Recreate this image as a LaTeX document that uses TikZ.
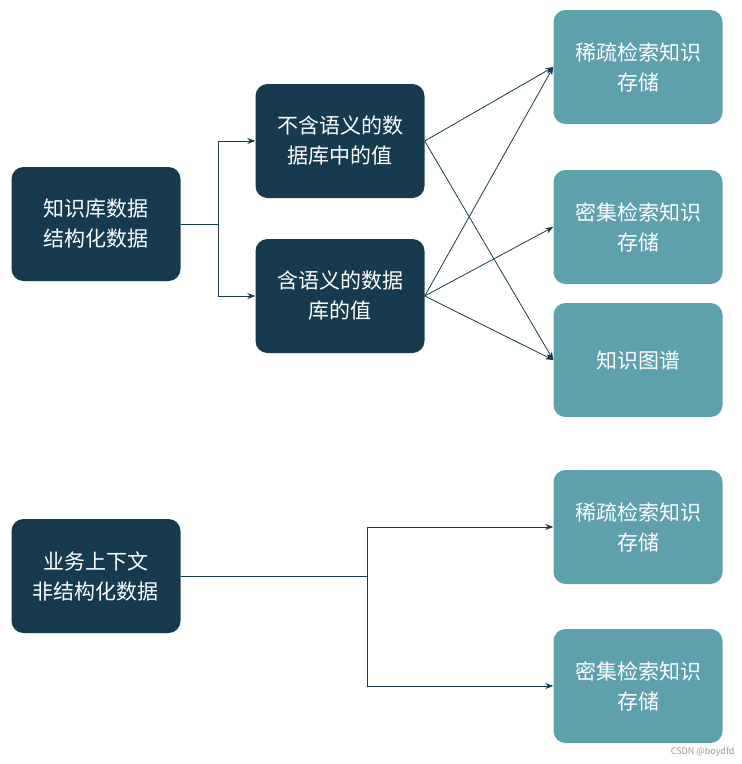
\documentclass[tikz,border=0pt]{standalone}
\usepackage{fontspec}
\setmainfont{Noto Sans CJK SC}
\usetikzlibrary{arrows.meta}
\definecolor{dk}{HTML}{173A4E}
\definecolor{tl}{HTML}{5FA0AD}
\tikzset{
 box/.style={rounded corners=12pt,minimum width=169pt,minimum height=114pt,text width=160pt,align=center,text=white,font=\fontsize{21}{30}\selectfont,inner sep=0pt},
 dbox/.style={box,fill=dk},
 tbox/.style={box,fill=tl},
 con/.style={draw=dk,line width=0.8pt,-{Stealth[length=8pt,width=6pt]}}
}
\begin{document}
\begin{tikzpicture}[x=1pt,y=-1pt]
\useasboundingbox (0,0) rectangle (742,764);
\node[dbox] (a) at (96,224) {知识库数据\\结构化数据};
\node[dbox] (m1) at (340,141) {不含语义的数\\据库中的值};
\node[dbox] (m2) at (340,296) {含语义的数据\\库的值};
\node[tbox] (r1) at (638,67) {稀疏检索知识\\存储};
\node[tbox] (r2) at (638,227) {密集检索知识\\存储};
\node[tbox] (r3) at (638,360) {知识图谱};
\node[dbox] (b) at (96,576) {业务上下文\\非结构化数据};
\node[tbox] (r4) at (638,527) {稀疏检索知识\\存储};
\node[tbox] (r5) at (638,686) {密集检索知识\\存储};
\coordinate (ja) at (218,224);
\coordinate (jb) at (367,576);
\draw[con] (a.east) -- (ja) |- (m1.west);
\draw[con] (ja) |- (m2.west);
\draw[con] (m1.east) -- (r1.west);
\draw[con] (m1.east) -- (r3.west);
\draw[con] (m2.east) -- (r1.west);
\draw[con] (m2.east) -- (r2.west);
\draw[con] (m2.east) -- (r3.west);
\draw[con] (b.east) -- (jb) |- (r4.west);
\draw[con] (jb) |- (r5.west);
\node[text=gray!80,font=\fontsize{9}{10}\selectfont,anchor=east] (wm) at (738,752) {CSDN @boydfd};
\end{tikzpicture}
\end{document}
